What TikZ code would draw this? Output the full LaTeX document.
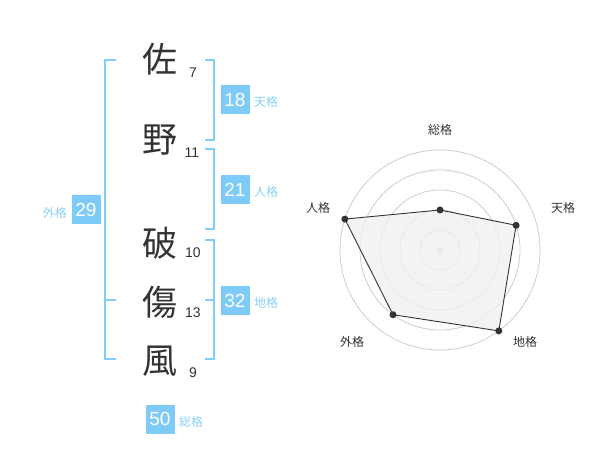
\documentclass[tikz,border=0pt]{standalone}
\usepackage{fontspec}
\newfontfamily\jp{Noto Sans CJK JP}
\newfontfamily\num{Liberation Sans}
\definecolor{brk}{HTML}{82CDF8}
\definecolor{boxc}{HTML}{7FCBF7}
\definecolor{lbl}{HTML}{8ACFF5}
\definecolor{ink}{HTML}{333333}
\definecolor{ring}{HTML}{CCCCCC}
\definecolor{poly}{HTML}{F0F0F0}
\tikzset{
  kanji/.style={font=\jp\fontsize{35}{35}\selectfont, text=ink, inner sep=0pt},
  strokes/.style={font=\num\fontsize{14}{14}\selectfont, text=ink, inner sep=0pt},
  valbox/.style={fill=boxc, text=white, font=\num\fontsize{19}{19}\selectfont, minimum width=29pt, minimum height=29pt, inner sep=0pt},
  kaku/.style={font=\jp\fontsize{12}{12}\selectfont, text=lbl, inner sep=0pt},
  bracket/.style={draw=brk, line width=2pt},
  axislbl/.style={font=\jp\fontsize{12}{12}\selectfont, text=ink, inner sep=0pt},
  ringline/.style={draw=ring, line width=0.8pt},
  dot/.style={circle, fill=ink, minimum size=7pt, inner sep=0pt},
}
\begin{document}
\begin{tikzpicture}[x=1pt,y=-1pt]
\useasboundingbox (0,0) rectangle (600,470);
% characters
\node[kanji] (c1) at (160,59) {佐};
\node[kanji] (c2) at (160,140) {野};
\node[kanji] (c3) at (160,243) {破};
\node[kanji] (c4) at (160,302) {傷};
\node[kanji] (c5) at (160,361) {風};
\node[strokes] (s1) at (193,73) {7};
\node[strokes] (s2) at (192,153) {11};
\node[strokes] (s3) at (193,253) {10};
\node[strokes] (s4) at (193,313) {13};
\node[strokes] (s5) at (193,373) {9};
% brackets
\draw[bracket] (116,60) -- (105,60) -- (105,359) -- (116,359);
\draw[bracket] (105,300) -- (116,300);
\draw[bracket] (205,60) -- (214,60) -- (214,140) -- (205,140);
\draw[bracket] (205,149) -- (214,149) -- (214,229) -- (205,229);
\draw[bracket] (205,240) -- (214,240) -- (214,359) -- (205,359);
\draw[bracket] (205,300) -- (214,300);
% value boxes
\node[valbox] (b18) at (235,100) {18};
\node[kaku, anchor=west] (k18) at (254,102) {天格};
\node[valbox] (b21) at (235,190) {21};
\node[kaku, anchor=west] (k21) at (254,192) {人格};
\node[valbox] (b32) at (235,301) {32};
\node[kaku, anchor=west] (k32) at (254,303) {地格};
\node[valbox] (b29) at (86,210) {29};
\node[kaku, anchor=east] (k29) at (67,213) {外格};
\node[valbox] (b50) at (160,419) {50};
\node[kaku, anchor=west] (k50) at (179,422) {総格};
% radar
\coordinate (C) at (440,250);
\foreach \r in {20,40,60,80,100} \draw[ringline] (C) circle[radius=\r];
\fill[ring] (C) circle[radius=3.5];
\coordinate (p1) at (440,210);
\coordinate (p2) at (516.1,225.3);
\coordinate (p3) at (498.8,330.9);
\coordinate (p4) at (393.0,314.7);
\coordinate (p5) at (344.9,219.1);
\filldraw[fill=poly, fill opacity=0.8, draw=ink, line width=0.9pt] (p1) -- (p2) -- (p3) -- (p4) -- (p5) -- cycle;
\foreach \p in {p1,p2,p3,p4,p5} \node[dot] at (\p) {};
\node[axislbl] (a1) at (440,130) {総格};
\node[axislbl] (a2) at (563,208) {天格};
\node[axislbl] (a3) at (525,342) {地格};
\node[axislbl] (a4) at (352,342) {外格};
\node[axislbl] (a5) at (318,208) {人格};
\end{tikzpicture}
\end{document}
